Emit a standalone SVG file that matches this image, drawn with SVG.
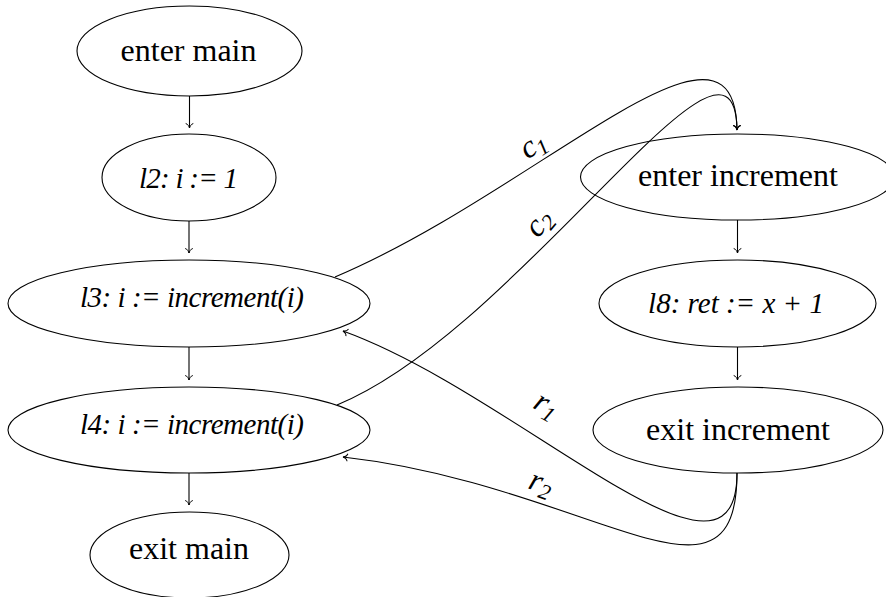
<svg xmlns="http://www.w3.org/2000/svg" width="886" height="597" viewBox="0 0 886 597">
<style>
.node ellipse{fill:none;stroke:#000;stroke-width:1.1}
.up{font-family:"Liberation Serif","DejaVu Serif",serif;font-size:32px;fill:#000;text-anchor:middle}
.it{font-family:"Liberation Serif","DejaVu Serif",serif;font-style:italic;font-size:29px;fill:#000;text-anchor:middle}
.lbl{font-family:"Liberation Serif","DejaVu Serif",serif;font-style:italic;font-size:32px;fill:#000;text-anchor:middle}
.sub{font-size:22px}
#edges path{fill:none;stroke:#000;stroke-width:1.1}
</style>
<defs>
<marker id="arr" viewBox="-6 -5 7 10" refX="0" refY="0" markerWidth="7" markerHeight="10" orient="auto" markerUnits="userSpaceOnUse">
<path d="M-4.5,-3.8 C-4,-1.6 -1.2,-0.3 0,0 C-1.2,0.3 -4,1.6 -4.5,3.8" fill="none" stroke="#000" stroke-width="1"/>
</marker>
</defs>
<rect width="886" height="597" fill="#fff"/>
<g id="edges">
<path d="M189.5 96 L189.5 128" marker-end="url(#arr)"/>
<path d="M189 221 L189 253" marker-end="url(#arr)"/>
<path d="M189 347 L189 380" marker-end="url(#arr)"/>
<path d="M189 473 L189 505" marker-end="url(#arr)"/>
<path d="M737.5 220 L737.5 253" marker-end="url(#arr)"/>
<path d="M737.5 347 L737.5 380" marker-end="url(#arr)"/>
<path d="M335 277 C540 190 735 -15 737 130" marker-end="url(#arr)"/>
<path d="M337 405 C520 330 735 -15 737 130" marker-end="url(#arr)"/>
<path d="M737 473 C737 618 520 395 343 331" marker-end="url(#arr)"/>
<path d="M737 473 C737 630 591 485 343 457" marker-end="url(#arr)"/>
<text class="lbl" transform="translate(538,153) rotate(-33)">c<tspan class="sub" dy="5">1</tspan></text>
<text class="lbl" transform="translate(546,229) rotate(-50)">c<tspan class="sub" dy="5">2</tspan></text>
<text class="lbl" transform="translate(542,413) rotate(30)">r<tspan class="sub" dy="5">1</tspan></text>
<text class="lbl" transform="translate(538,492) rotate(20)">r<tspan class="sub" dy="5">2</tspan></text>
</g>
<g id="enter_main" class="node"><ellipse cx="189.5" cy="51" rx="112.5" ry="45"/><text class="up" x="188.5" y="61">enter main</text></g>
<g id="l2" class="node"><ellipse cx="189" cy="177.5" rx="87" ry="43.5"/><text class="it" x="188.5" y="188" textLength="99">l2: i := 1</text></g>
<g id="l3" class="node"><ellipse cx="189" cy="303.5" rx="181" ry="43.5"/><text class="it" x="192" y="307" textLength="224">l3: i := increment(i)</text></g>
<g id="l4" class="node"><ellipse cx="189" cy="430" rx="181" ry="43"/><text class="it" x="192" y="434" textLength="224">l4: i := increment(i)</text></g>
<g id="exit_main" class="node"><ellipse cx="189.5" cy="555" rx="99.5" ry="43"/><text class="up" x="189" y="559">exit main</text></g>
<g id="enter_increment" class="node"><ellipse cx="737.5" cy="177" rx="157" ry="43"/><text class="up" x="738" y="186">enter increment</text></g>
<g id="l8" class="node"><ellipse cx="737.5" cy="303.5" rx="138.5" ry="43.5"/><text class="it" x="736" y="313">l8: ret := x + 1</text></g>
<g id="exit_increment" class="node"><ellipse cx="738" cy="430" rx="145" ry="43"/><text class="up" x="738" y="440">exit increment</text></g>
</svg>
